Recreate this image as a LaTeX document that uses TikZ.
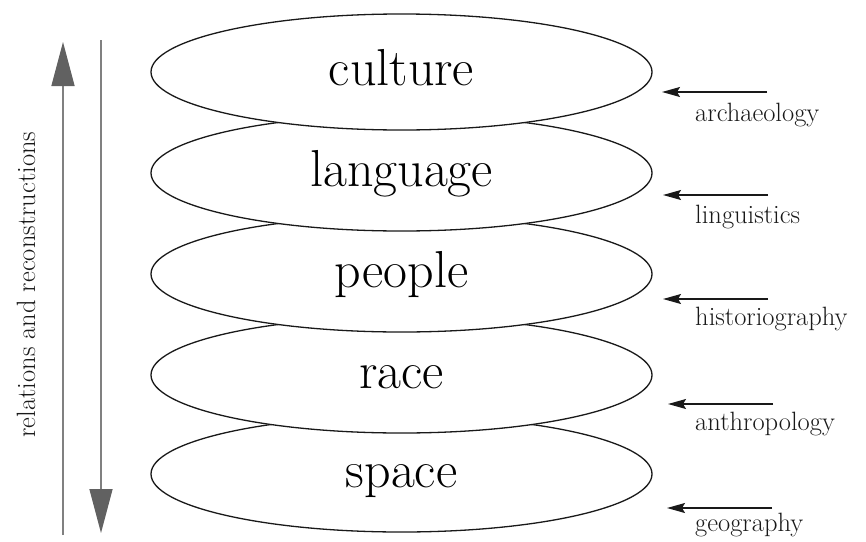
\documentclass[tikz,border=0pt]{standalone}
\usetikzlibrary{arrows.meta,shapes.geometric}
\begin{document}
\begin{tikzpicture}[x=1pt,y=-1pt,
  layer/.style={ellipse, draw=black!90, fill=white, line width=1.3pt,
    minimum width=501pt, minimum height=116pt, inner sep=0pt,
    text height=36pt, text depth=10pt, font=\fontsize{52}{60}\selectfont},
  lab/.style={anchor=base west, inner sep=0pt, font=\fontsize{26.5}{30}\selectfont, text=black!90},
  disc/.style={-{Stealth[length=18pt,width=10pt,inset=3pt]}, line width=1.4pt, draw=black!90},
  axis/.style={-{Triangle[length=44pt,width=23pt,color=black!62]}, draw=black!50, line width=1.5pt}]
\useasboundingbox (0,0) rectangle (866,541);
% layers, drawn bottom first
\node[layer] (space)    at (401.5,474) {space};
\node[layer] (race)     at (401.5,375) {race};
\node[layer] (people)   at (401.5,274) {people};
\node[layer] (language) at (401.5,173) {language};
\node[layer] (culture)  at (401.5,72)  {culture};
% left axis
\coordinate (upS) at (63,535);
\coordinate (upE) at (63,42);
\coordinate (dnS) at (101,40);
\coordinate (dnE) at (101,533);
\draw[axis] (upS) -- (upE);
\draw[axis] (dnS) -- (dnE);
\node[rotate=90, inner sep=0pt, font=\fontsize{26.5}{30}\selectfont, text=black!90] (axislab) at (26,284.5) {relations and reconstructions};
% disciplines
\coordinate (a1) at (767,92);  \coordinate (b1) at (662,92);
\coordinate (a2) at (768,195); \coordinate (b2) at (663,195);
\coordinate (a3) at (768,299); \coordinate (b3) at (663,299);
\coordinate (a4) at (773,404); \coordinate (b4) at (668,404);
\coordinate (a5) at (772,508); \coordinate (b5) at (667,508);
\draw[disc] (a1) -- (b1);
\draw[disc] (a2) -- (b2);
\draw[disc] (a3) -- (b3);
\draw[disc] (a4) -- (b4);
\draw[disc] (a5) -- (b5);
\node[lab] (arch) at (695,121.7) {archaeology};
\node[lab] (ling) at (695,223) {linguistics};
\node[lab] (hist) at (695,325) {historiography};
\node[lab] (anth) at (695,430) {anthropology};
\node[lab] (geog) at (695,531.7) {geography};
\end{tikzpicture}
\end{document}
